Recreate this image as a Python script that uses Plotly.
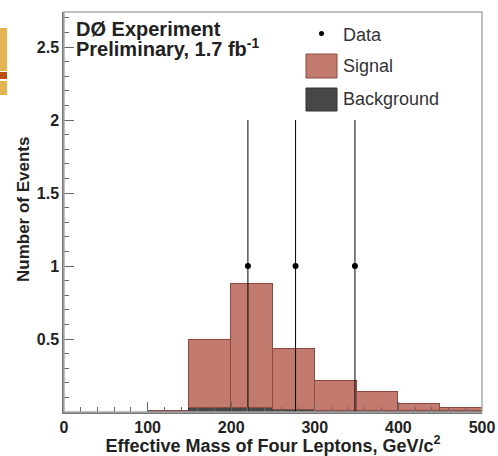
import plotly.graph_objects as go

# ---- data ----
bin_centers = [125, 175, 225, 275, 325, 375, 425, 475]
bin_width = 50
background = [0.004, 0.03, 0.03, 0.012, 0.01, 0.01, 0.006, 0.004]
signal = [0.0, 0.46, 0.85, 0.42, 0.20, 0.125, 0.05, 0.025]
data_x = [220, 277, 348]
data_y = [1, 1, 1]
data_err = [1, 1, 1]
x_ticks = [0, 100, 200, 300, 400, 500]
y_ticks = [0.5, 1, 1.5, 2, 2.5]

FONT = "Liberation Sans"
SIG_FILL = "#c27a6e"
SIG_LINE = "#8c4a40"
BKG_FILL = "#474747"

fig = go.Figure()
fig.add_trace(go.Bar(x=bin_centers, y=background, width=bin_width,
                     marker=dict(color=BKG_FILL, line=dict(color="#333333", width=1)),
                     name="Background", showlegend=False))
fig.add_trace(go.Bar(x=bin_centers, y=signal, width=bin_width,
                     marker=dict(color=SIG_FILL, line=dict(color=SIG_LINE, width=1)),
                     name="Signal", showlegend=False))
fig.add_trace(go.Scatter(x=data_x, y=data_y, mode="markers",
                         marker=dict(color="black", size=6),
                         error_y=dict(type="data", array=data_err, color="black",
                                      thickness=1, width=0),
                         name="Data", showlegend=False))

L, R, T, B = 64, 16, 12, 44
W, H = 498, 456
pw, ph = W - L - R, H - T - B

def px(x):
    return (x - L) / pw

def py(y):
    return (H - B - y) / ph

fig.update_layout(
    width=W, height=H,
    margin=dict(l=L, r=R, t=T, b=B, autoexpand=False),
    paper_bgcolor="white", plot_bgcolor="white",
    barmode="stack", bargap=0,
    font=dict(family=FONT, color="#222222"),
    xaxis=dict(range=[0, 500], tickvals=x_ticks, ticks="inside", ticklen=10,
               tickcolor="#666666", showgrid=False, zeroline=False, automargin=False,
               showline=True, linecolor="#777777", linewidth=1.5,
               tickfont=dict(size=16, weight="bold", color="#222222"),
               minor=dict(dtick=20, ticks="inside", ticklen=5, tickcolor="#666666"),
               title=dict(text="Effective Mass of Four Leptons, GeV/c<sup>2</sup>",
                          font=dict(size=18, weight="bold", color="#222222"), standoff=3)),
    yaxis=dict(range=[0, 2.74], tickvals=y_ticks, ticks="inside", ticklen=10,
               tickcolor="#666666", showgrid=False, zeroline=False, automargin=False,
               showline=True, linecolor="#777777", linewidth=1.5,
               tickfont=dict(size=16, weight="bold", color="#222222"),
               minor=dict(dtick=0.1, ticks="inside", ticklen=5, tickcolor="#666666")),
)

shapes = [
    dict(type="rect", xref="paper", yref="paper", x0=0, x1=1, y0=0, y1=1,
         line=dict(color="#aaaaaa", width=1.5), fillcolor="rgba(0,0,0,0)", layer="above"),
    # legend swatches
    dict(type="rect", xref="paper", yref="paper", x0=px(306), x1=px(337), y0=py(78), y1=py(54),
         fillcolor=SIG_FILL, line=dict(color=SIG_LINE, width=1)),
    dict(type="rect", xref="paper", yref="paper", x0=px(306), x1=px(337), y0=py(111), y1=py(88),
         fillcolor=BKG_FILL, line=dict(color="#333333", width=1)),
    dict(type="circle", xref="paper", yref="paper", x0=px(319), x1=px(324), y0=py(36), y1=py(31),
         fillcolor="black", line=dict(width=0)),
    # slide decoration at left edge
    dict(type="rect", xref="paper", yref="paper", x0=px(0), x1=px(7), y0=py(95), y1=py(28),
         fillcolor="#e6b252", line=dict(width=0)),
    dict(type="rect", xref="paper", yref="paper", x0=px(0), x1=px(7), y0=py(79), y1=py(72),
         fillcolor="#b8500c", line=dict(width=0)),
    dict(type="rect", xref="paper", yref="paper", x0=px(0), x1=px(7), y0=py(72), y1=py(71),
         fillcolor="white", line=dict(width=0)),
    dict(type="rect", xref="paper", yref="paper", x0=px(0), x1=px(7), y0=py(81), y1=py(79),
         fillcolor="white", line=dict(width=0)),
]
fig.update_layout(shapes=shapes)

# y axis title
fig.add_annotation(text="Number of Events", x=px(23), y=py(210), xref="paper", yref="paper",
                   xanchor="center", yanchor="middle", textangle=-90, showarrow=False,
                   font=dict(size=17, weight="bold", color="#222222", family=FONT))

ann = [
    dict(text="D\u00d8 Experiment", x=px(74), y=py(29)),
    dict(text="Preliminary, 1.7 fb<sup>-1</sup>", x=px(74), y=py(48)),
]
for a in ann:
    fig.add_annotation(text=a["text"], x=a["x"], y=a["y"], xref="paper", yref="paper",
                       xanchor="left", yanchor="middle", showarrow=False,
                       font=dict(size=20, weight="bold", color="#222222", family=FONT))

for label, yy in [("Data", 35), ("Signal", 66), ("Background", 99)]:
    fig.add_annotation(text=label, x=px(341), y=py(yy), xref="paper", yref="paper",
                       xanchor="left", yanchor="middle", showarrow=False,
                       font=dict(size=18, color="#333333", family=FONT))

fig.write_html("out.html", config={"displayModeBar": False},
               post_script="document.body.style.margin='0';document.body.style.overflow='hidden';")
